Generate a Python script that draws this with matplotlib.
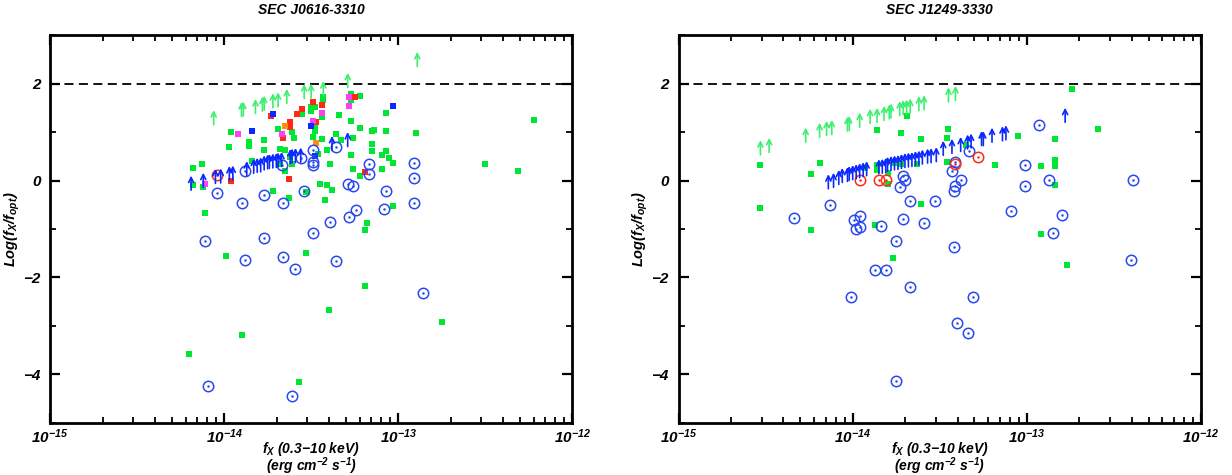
import numpy as np
import matplotlib
matplotlib.use("Agg")
import matplotlib.pyplot as plt
from matplotlib.ticker import FixedLocator, MultipleLocator, FuncFormatter, NullFormatter

# ---------------- data: log10(f_X) and log(f_X/f_opt) ----------------
# left field
L_green_x = [-13.96, -13.86, -13.86, -13.77, -13.97, -13.77, -13.68, -13.65, -13.69, -13.61,
             -13.60, -13.55, -13.50, -13.48, -13.50, -13.43, -13.43, -13.44, -13.48, -13.48,
             -13.47, -13.49, -13.44, -13.36, -13.34, -13.41, -13.46, -13.62, -13.61, -13.65,
             -13.68, -14.18, -14.13, -14.18, -14.12, -13.84, -13.72, -13.63, -13.45, -13.41,
             -13.38, -13.42, -13.53, -14.11, -13.39, -13.27, -13.27, -13.22, -13.27, -13.33,
             -13.26, -13.22, -13.15, -13.14, -13.07, -13.07, -12.90, -13.15, -13.15, -13.27,
             -13.07, -13.09, -13.05, -13.03, -13.26, -13.09, -13.22, -12.22, -12.50, -12.31,
             -13.03, -13.18, -13.19, -13.99, -13.53, -13.40, -13.90, -14.20, -13.57, -13.19,
             -12.75]
L_green_y = [1.01, 0.79, 0.72, 0.84, 0.70, 0.63, 0.65, 0.63, 1.07, 1.00,
             0.88, 1.38, 1.51, 1.51, 1.43, 1.72, 1.65, 1.31, 1.13, 1.03,
             1.20, 0.89, 0.86, 0.96, 1.36, 0.62, 0.55, 0.48, 0.33, 0.19,
             0.34, 0.26, 0.34, -0.10, -0.14, 0.41, -0.21, -0.36, -0.07, -0.10,
             -0.19, -0.41, -0.24, -0.67, 0.34, 1.79, 1.65, 1.75, 1.22, 0.84,
             0.88, 1.09, 1.03, 1.05, 1.03, 1.40, 0.98, 0.76, 0.60, 0.53,
             0.60, 0.53, 0.47, 0.36, 0.24, 0.24, 0.10, 1.24, 0.34, 0.19,
             -0.52, -0.87, -1.03, -1.55, -1.49, -2.67, -3.18, -3.57, -4.15, -2.17,
             -2.91]
L_red_x = [-13.49, -13.55, -13.44, -13.58, -13.73, -13.62, -13.62, -13.47, -13.66, -13.96,
           -13.63, -13.25, -13.19]
L_red_y = [1.61, 1.48, 1.55, 1.38, 1.32, 1.20, 1.10, 1.20, 0.88, -0.01,
           0.04, 1.73, 0.17]
L_mag_x = [-13.92, -13.67, -13.44, -13.49, -14.11, -13.28, -13.28]
L_mag_y = [0.96, 0.95, 1.40, 1.23, -0.08, 1.73, 1.53]
L_bsq_x = [-13.72, -13.84, -13.50, -13.48, -13.03]
L_bsq_y = [1.38, 1.02, 1.13, 0.51, 1.53]
L_org_x = [-13.65, -13.47]
L_org_y = [1.13, 0.77]
L_circ_x = [-14.04, -13.90, -13.77, -13.66, -13.54, -13.56, -13.49, -13.49, -13.49, -13.67,
            -13.88, -13.39, -13.49, -13.36, -13.17, -13.17, -12.91, -12.91, -12.91, -13.29,
            -13.26, -13.07, -13.24, -13.08, -13.28, -14.11, -13.77, -13.88, -13.66, -13.59,
            -13.36, -14.09, -13.61, -12.86]
L_circ_y = [-0.26, -0.46, -0.29, -0.47, -0.22, 0.47, 0.63, 0.38, 0.31, 0.31,
            0.19, -0.86, -1.09, 0.70, 0.34, 0.14, 0.36, 0.06, -0.46, -0.07,
            -0.12, -0.22, -0.60, -0.58, -0.76, -1.24, -1.19, -1.63, -1.58, -1.82,
            -1.65, -4.23, -4.45, -2.33]
L_rcirc_x = [-14.04]
L_rcirc_y = [0.12]
L_barr_x = [-14.19, -14.12, -14.05, -14.02, -13.97, -13.95, -13.87, -13.83, -13.81, -13.79,
            -13.77, -13.75, -13.74, -13.72, -13.70, -13.69, -13.67, -13.62, -13.61, -13.59,
            -13.56, -13.38, -13.29]
L_barr_y = [-0.20, -0.14, -0.06, -0.05, 0.00, 0.01, 0.10, 0.15, 0.17, 0.18,
            0.22, 0.24, 0.25, 0.26, 0.27, 0.28, 0.29, 0.35, 0.36, 0.37,
            0.38, 0.62, 0.70]
L_garr_x = [-14.06, -13.90, -13.89, -13.82, -13.78, -13.77, -13.72, -13.69, -13.64, -13.54,
            -13.50, -13.43, -13.29, -12.89]
L_garr_y = [1.15, 1.32, 1.33, 1.38, 1.43, 1.45, 1.50, 1.52, 1.59, 1.69,
            1.70, 1.75, 1.92, 2.35]

# right field
R_green_x = [-14.53, -14.53, -14.24, -14.19, -13.86, -13.72, -13.69, -13.61, -13.93, -13.86,
             -13.86, -13.80, -13.80, -13.76, -13.72, -13.63, -13.61, -13.87, -14.24, -13.45,
             -13.46, -13.35, -13.46, -13.18, -13.05, -12.84, -12.84, -12.84, -12.92, -12.84,
             -12.74, -12.59, -13.77, -12.92, -12.77]
R_green_y = [0.32, -0.56, 0.14, 0.36, 1.05, 0.97, 1.33, 0.86, 0.26, 0.32,
             0.21, 0.16, -0.07, 0.36, 0.34, 0.34, -0.48, -0.91, -1.03, 1.07,
             0.88, 0.74, 0.39, 0.32, 0.92, 0.86, 0.43, 0.30, 0.30, -0.09,
             1.89, 1.07, -1.59, -1.10, -1.74]
R_circ_x = [-13.71, -13.70, -13.73, -13.67, -13.53, -14.13, -14.34, -13.99, -13.96, -13.98,
            -13.96, -13.84, -13.71, -13.59, -13.33, -12.93, -13.41, -13.43, -13.38, -13.41,
            -13.42, -13.01, -13.01, -12.87, -12.39, -13.09, -12.80, -13.75, -13.87, -13.81,
            -13.67, -14.01, -13.75, -13.42, -12.85, -12.40, -13.31, -13.40, -13.34]
R_circ_y = [0.10, 0.01, -0.14, -0.43, -0.43, -0.50, -0.77, -0.82, -0.73, -1.00,
            -0.95, -0.94, -0.79, -0.88, 0.60, 1.15, 0.38, 0.19, 0.01, -0.12,
            -0.22, 0.31, -0.12, 0.01, 0.01, -0.63, -0.72, -1.24, -1.84, -1.84,
            -2.19, -2.41, -4.14, -1.38, -1.09, -1.63, -2.40, -2.93, -3.15]
R_rcirc_x = [-13.96, -13.85, -13.81, -13.41, -13.28]
R_rcirc_y = [0.02, 0.02, 0.02, 0.33, 0.48]
R_barr_x = [-14.14, -14.11, -14.08, -14.06, -14.03, -14.02, -14.00, -13.98, -13.96, -13.94,
            -13.92, -13.85, -13.83, -13.81, -13.80, -13.78, -13.76, -13.74, -13.72, -13.70,
            -13.68, -13.66, -13.64, -13.62, -13.60, -13.57, -13.55, -13.52, -13.48, -13.43,
            -13.38, -13.34, -13.32, -13.26, -13.25, -13.20, -13.14, -13.12, -12.78]
R_barr_y = [-0.17, -0.14, -0.08, -0.04, -0.02, 0.00, 0.02, 0.04, 0.06, 0.08,
            0.10, 0.14, 0.15, 0.17, 0.19, 0.21, 0.22, 0.23, 0.25, 0.27,
            0.28, 0.29, 0.31, 0.32, 0.34, 0.36, 0.37, 0.39, 0.52, 0.56,
            0.60, 0.65, 0.67, 0.72, 0.72, 0.79, 0.82, 0.84, 1.20]
R_garr_x = [-14.53, -14.48, -14.27, -14.19, -14.15, -14.12, -14.03, -14.02, -13.96, -13.90,
            -13.86, -13.82, -13.79, -13.78, -13.73, -13.71, -13.69, -13.67, -13.62, -13.59,
            -13.45, -13.41]
R_garr_y = [0.53, 0.58, 0.79, 0.89, 0.93, 0.95, 1.02, 1.03, 1.10, 1.18,
            1.20, 1.24, 1.27, 1.29, 1.34, 1.36, 1.37, 1.39, 1.44, 1.46,
            1.62, 1.65]

titles = ["SEC J0616-3310", "SEC J1249-3330"]
x_decades = [-15, -14, -13, -12]

GREEN = "#00e632"
GREEN_ARR = "#3df070"
BLUE = "#0a28ff"
BLUE_C = "#2a48f0"
RED = "#ff2a14"
MAGENTA = "#ff40f0"
ORANGE = "#ff8c14"

plt.rcParams["font.family"] = "Liberation Sans"
plt.rcParams["font.weight"] = "bold"
plt.rcParams["font.style"] = "italic"
plt.rcParams["axes.titleweight"] = "bold"
plt.rcParams["axes.labelweight"] = "bold"
plt.rcParams["mathtext.fontset"] = "custom"
for k in ["rm", "it", "bf", "sf"]:
    plt.rcParams["mathtext." + k] = "Liberation Sans:italic:bold"


def squares(ax, lx, ly, color):
    ax.plot(10 ** np.array(lx), ly, "s", color=color, ms=4.3, mew=0, zorder=3)


def circles(ax, lx, ly, color):
    ax.plot(10 ** np.array(lx), ly, "o", mfc="none", mec=color, ms=7.5, mew=1.1, zorder=4)
    ax.plot(10 ** np.array(lx), ly, ".", color=color, ms=1.6, zorder=4)


def arrows(ax, lx, ly, color):
    for x, y in zip(lx, ly):
        ax.annotate("", xy=(10 ** x, y + 0.3), xytext=(10 ** x, y),
                    arrowprops=dict(arrowstyle="->", color=color, lw=1.2,
                                    mutation_scale=9, shrinkA=0, shrinkB=0),
                    zorder=5)


def style(ax, title):
    ax.set_xscale("log")
    ax.set_xlim(1e-15, 1e-12)
    ax.set_ylim(-5, 3)
    ax.axhline(2, color="black", lw=1.3, ls=(0, (5, 3)), zorder=1)
    majors = [10.0 ** d for d in x_decades]
    minors = [m * 10.0 ** d for d in x_decades[:-1] for m in range(2, 10)]
    ax.xaxis.set_major_locator(FixedLocator(majors))
    ax.xaxis.set_minor_locator(FixedLocator(minors))
    ax.xaxis.set_major_formatter(FuncFormatter(lambda v, p: r"$10^{%d}$" % round(np.log10(v))))
    ax.xaxis.set_minor_formatter(NullFormatter())
    ax.yaxis.set_major_locator(MultipleLocator(2))
    ax.yaxis.set_minor_locator(MultipleLocator(1))
    ax.tick_params(which="both", direction="in", top=True, right=True, labelsize=11)
    ax.tick_params(axis="x", pad=3)
    ax.tick_params(axis="y", pad=7)
    ax.tick_params(which="major", length=7, width=1.6)
    ax.tick_params(which="minor", length=4, width=1.3)
    for s in ax.spines.values():
        s.set_linewidth(2)
    ax.set_title(title, fontsize=10, pad=15)
    ax.set_xlabel("$f_X$ (0.3$-$10 keV)\n(erg cm$^{-2}$ s$^{-1}$)", fontsize=10, linespacing=0.78)
    ax.xaxis.set_label_coords(0.5, -0.045)
    ax.set_ylabel("Log($f_X$/$f_{opt}$)", fontsize=10.5)
    ax.yaxis.set_label_coords(-0.054, 0.5)


fig = plt.figure(figsize=(12.32, 4.75), dpi=100)
axL = fig.add_axes([0.0407, 0.1095, 0.4237, 0.8168])
axR = fig.add_axes([0.5508, 0.1095, 0.4240, 0.8168])

style(axL, titles[0])
squares(axL, L_green_x, L_green_y, GREEN)
squares(axL, L_red_x, L_red_y, RED)
squares(axL, L_mag_x, L_mag_y, MAGENTA)
squares(axL, L_bsq_x, L_bsq_y, BLUE)
squares(axL, L_org_x, L_org_y, ORANGE)
circles(axL, L_circ_x, L_circ_y, BLUE_C)
circles(axL, L_rcirc_x, L_rcirc_y, RED)
arrows(axL, L_barr_x, L_barr_y, BLUE)
arrows(axL, L_garr_x, L_garr_y, GREEN_ARR)

style(axR, titles[1])
squares(axR, R_green_x, R_green_y, GREEN)
circles(axR, R_circ_x, R_circ_y, BLUE_C)
circles(axR, R_rcirc_x, R_rcirc_y, RED)
arrows(axR, R_barr_x, R_barr_y, BLUE)
arrows(axR, R_garr_x, R_garr_y, GREEN_ARR)

fig.savefig("out.png", dpi=100)
